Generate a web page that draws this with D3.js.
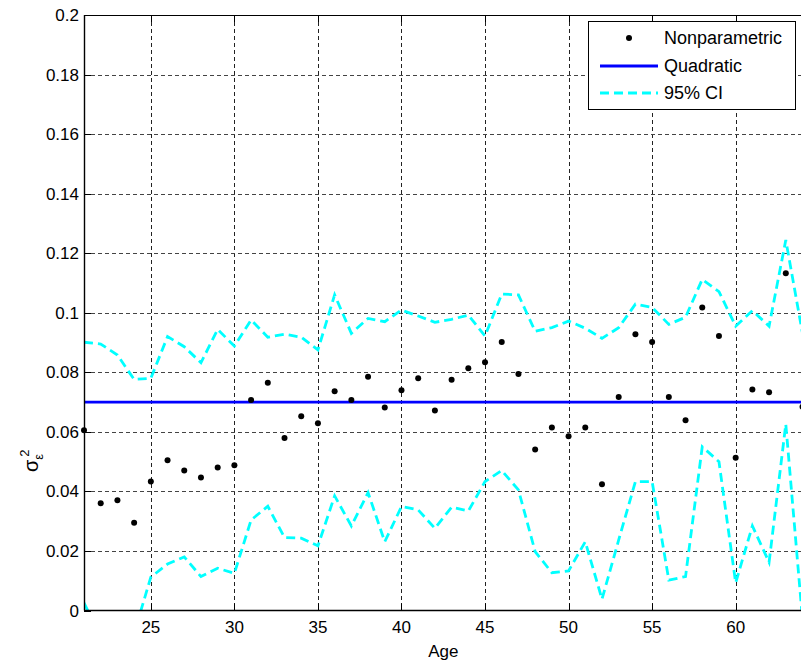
<!DOCTYPE html>
<html>
<head>
<meta charset="utf-8">
<script src="https://cdn.jsdelivr.net/npm/d3@7"></script>
<style>
  body { margin: 0; background: #fff; }
  svg { display: block; font-family: "Liberation Sans", Arial, Helvetica, sans-serif; }
</style>
</head>
<body>
<svg id="chart" width="801" height="666"></svg>
<script>
// ---- data ----
const ages = d3.range(21, 65);
const nonparametric = [
  0.0605, 0.0360, 0.0370, 0.0295, 0.0433, 0.0505, 0.0470, 0.0447, 0.0480, 0.0488,
  0.0707, 0.0765, 0.0579, 0.0652, 0.0629, 0.0736, 0.0707, 0.0785, 0.0682, 0.0740,
  0.0780, 0.0672, 0.0775, 0.0814, 0.0834, 0.0902, 0.0794, 0.0541, 0.0615, 0.0585,
  0.0615, 0.0424, 0.0717, 0.0928, 0.0902, 0.0717, 0.0639, 0.1018, 0.0922, 0.0513,
  0.0742, 0.0733, 0.1133, 0.0684
];
const quadratic = [0.0700, 0.0700];
const quadraticAges = [21, 64];
const upperCI = [
  0.0901, 0.0895, 0.0858, 0.0776, 0.0780, 0.0920, 0.0886, 0.0832, 0.0944, 0.0888,
  0.0976, 0.0918, 0.0928, 0.0918, 0.0875, 0.1060, 0.0931, 0.0981, 0.0970, 0.1009,
  0.0989, 0.0968, 0.0978, 0.0992, 0.0922, 0.1063, 0.1060, 0.0938, 0.0950, 0.0972,
  0.0948, 0.0914, 0.0950, 0.1029, 0.1018, 0.0961, 0.0985, 0.1112, 0.1071, 0.0955,
  0.1007, 0.0955, 0.1244, 0.0931
];
const lowerCI = [
  0.0026, -0.0090, -0.0110, -0.0076, 0.0112, 0.0156, 0.0180, 0.0114, 0.0142, 0.0125,
  0.0304, 0.0350, 0.0245, 0.0243, 0.0217, 0.0385, 0.0284, 0.0396, 0.0231, 0.0349,
  0.0338, 0.0276, 0.0347, 0.0334, 0.0433, 0.0470, 0.0405, 0.0198, 0.0127, 0.0133,
  0.0231, 0.0038, 0.0237, 0.0433, 0.0433, 0.0102, 0.0114, 0.0550, 0.0500, 0.0093,
  0.0284, 0.0162, 0.0626, -0.0030
];
const xTicks = [25, 30, 35, 40, 45, 50, 55, 60];
const yTicks = [0, 0.02, 0.04, 0.06, 0.08, 0.1, 0.12, 0.14, 0.16, 0.18, 0.2];
const yTickLabels = ["0", "0.02", "0.04", "0.06", "0.08", "0.1", "0.12", "0.14", "0.16", "0.18", "0.2"];
const legendLabels = ["Nonparametric", "Quadratic", "95% CI"];

// ---- layout ----
const svg = d3.select("#chart");
const pL = 84, pR = 802.5, pT = 15, pB = 610.5;
const x = d3.scaleLinear().domain([21, 64]).range([pL, pR]);
const y = d3.scaleLinear().domain([0, 0.2]).range([pB, pT]);

svg.append("defs").append("clipPath").attr("id", "clip")
  .append("rect").attr("x", pL).attr("y", pT)
  .attr("width", pR - pL).attr("height", pB - pT);

// grid
const grid = svg.append("g");
grid.selectAll(".gx").data(xTicks).join("line")
  .attr("x1", d => Math.round(x(d)) + 0.5).attr("x2", d => Math.round(x(d)) + 0.5)
  .attr("y1", pT).attr("y2", pB)
  .attr("stroke", "#222").attr("stroke-width", 1).attr("stroke-dasharray", "4,3");
grid.selectAll(".gy").data(yTicks.slice(1, -1)).join("line")
  .attr("x1", pL).attr("x2", pR)
  .attr("y1", d => Math.round(y(d)) + 0.5).attr("y2", d => Math.round(y(d)) + 0.5)
  .attr("stroke", "#444").attr("stroke-width", 1).attr("stroke-dasharray", "4,3");

const plot = svg.append("g").attr("clip-path", "url(#clip)");

// quadratic
plot.append("path")
  .datum(quadraticAges.map((a, i) => [a, quadratic[i]]))
  .attr("d", d3.line().x(d => x(d[0])).y(d => y(d[1])))
  .attr("fill", "none").attr("stroke", "#0000ff").attr("stroke-width", 2.8);

// CI lines
const ciLine = d3.line().x(d => x(d[0])).y(d => y(d[1]));
[upperCI, lowerCI].forEach(arr => {
  plot.append("path")
    .datum(ages.map((a, i) => [a, arr[i]]))
    .attr("d", ciLine)
    .attr("fill", "none").attr("stroke", "#00ffff").attr("stroke-width", 2.8)
    .attr("stroke-dasharray", "9,5");
});

// points
svg.append("g").selectAll("circle").data(ages).join("circle")
  .attr("cx", (d) => x(d)).attr("cy", (d, i) => y(nonparametric[i]))
  .attr("r", 3).attr("fill", "#000");

// axes
const axisG = svg.append("g");
axisG.append("line").attr("x1", pL).attr("x2", pR).attr("y1", pT + 0.5).attr("y2", pT + 0.5)
  .attr("stroke", "#000").attr("stroke-width", 1.2);
axisG.append("line").attr("x1", pL).attr("x2", pR).attr("y1", pB).attr("y2", pB)
  .attr("stroke", "#000").attr("stroke-width", 1.4);
axisG.append("line").attr("x1", pL + 0.5).attr("x2", pL + 0.5).attr("y1", pT).attr("y2", pB)
  .attr("stroke", "#000").attr("stroke-width", 1.4);

// inward ticks
axisG.selectAll(".tb").data(xTicks).join("line")
  .attr("x1", d => Math.round(x(d)) + 0.5).attr("x2", d => Math.round(x(d)) + 0.5)
  .attr("y1", pB).attr("y2", pB - 7).attr("stroke", "#000");
axisG.selectAll(".tt").data(xTicks).join("line")
  .attr("x1", d => Math.round(x(d)) + 0.5).attr("x2", d => Math.round(x(d)) + 0.5)
  .attr("y1", pT).attr("y2", pT + 7).attr("stroke", "#000");
axisG.selectAll(".tl").data(yTicks).join("line")
  .attr("x1", pL).attr("x2", pL + 7)
  .attr("y1", d => Math.round(y(d)) + 0.5).attr("y2", d => Math.round(y(d)) + 0.5).attr("stroke", "#000");

// tick labels
axisG.selectAll(".xl").data(xTicks).join("text")
  .attr("x", d => x(d)).attr("y", 633)
  .attr("text-anchor", "middle").attr("font-size", 17).attr("fill", "#000")
  .text(d => d);
axisG.selectAll(".yl").data(yTicks).join("text")
  .attr("x", 79).attr("y", d => y(d) + 6)
  .attr("text-anchor", "end").attr("font-size", 17).attr("fill", "#000")
  .text((d, i) => yTickLabels[i]);

// axis labels
svg.append("text").attr("x", x(42.5)).attr("y", 657)
  .attr("text-anchor", "middle").attr("font-size", 17).text("Age");

const yl = svg.append("text")
  .attr("transform", "translate(38,472) rotate(-90)")
  .attr("font-size", 20);
yl.append("tspan").text("σ");
yl.append("tspan").attr("font-size", 13).attr("dy", 5).text("ε");
yl.append("tspan").attr("font-size", 13).attr("dx", -3).attr("dy", -14).text("2");

// legend
const lg = svg.append("g");
lg.append("rect").attr("x", 588.5).attr("y", 21.5).attr("width", 207).attr("height", 88)
  .attr("fill", "#fff").attr("stroke", "#000").attr("stroke-width", 1);
const ly = [38, 66, 93];
lg.append("circle").attr("cx", 629).attr("cy", ly[0]).attr("r", 3).attr("fill", "#000");
lg.append("line").attr("x1", 600).attr("x2", 658).attr("y1", ly[1]).attr("y2", ly[1])
  .attr("stroke", "#0000ff").attr("stroke-width", 2.8);
lg.append("line").attr("x1", 600).attr("x2", 658).attr("y1", ly[2]).attr("y2", ly[2])
  .attr("stroke", "#00ffff").attr("stroke-width", 2.8).attr("stroke-dasharray", "9,5");
lg.selectAll(".lt").data(legendLabels).join("text")
  .attr("x", 664).attr("y", (d, i) => ly[i] + 6)
  .attr("font-size", 18).text(d => d);
</script>
</body>
</html>
